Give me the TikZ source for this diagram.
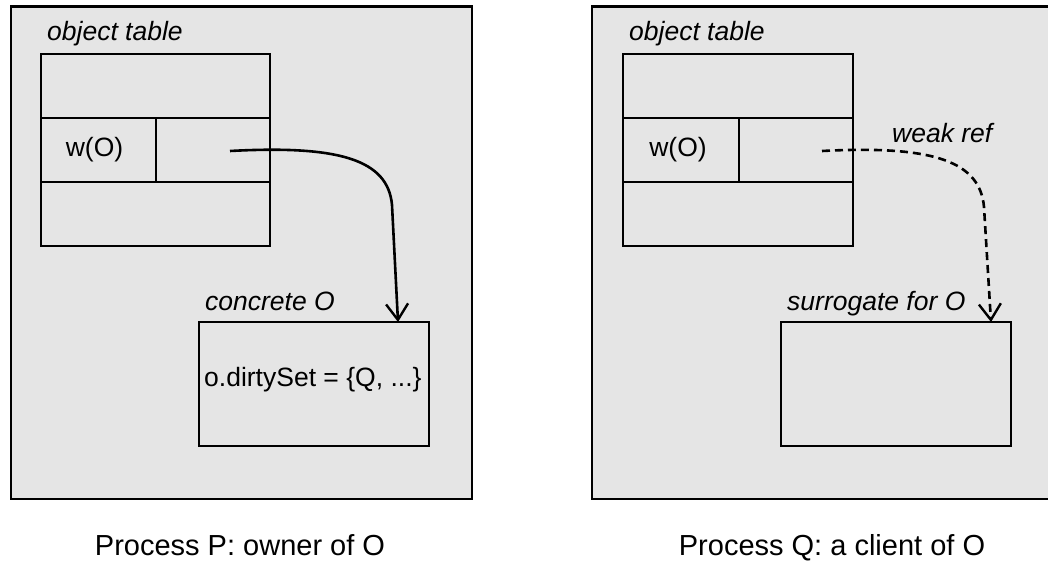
\documentclass[tikz,border=0pt]{standalone}
\usepackage{fontspec}
\setmainfont{Liberation Sans}
\usetikzlibrary{arrows.meta}
\definecolor{panelgray}{RGB}{229,229,229}
\begin{document}
\begin{tikzpicture}[x=1bp,y=-1bp,
  panel/.style={draw=black, fill=panelgray, line width=2.8bp, inner sep=0pt, outer sep=0pt, anchor=north west},
  cell/.style={draw=black, fill=panelgray, line width=2.8bp, inner sep=0pt, outer sep=0pt, anchor=north west},
  lbl/.style={font=\fontsize{26.5bp}{30bp}\selectfont\itshape, inner sep=0pt, anchor=base west},
  txt/.style={font=\fontsize{26.5bp}{30bp}\selectfont, inner sep=0pt},
  captxt/.style={font=\fontsize{29bp}{34bp}\selectfont, inner sep=0pt, anchor=base},
  ref/.style={line width=2.6bp, -{Straight Barb[length=16bp,width=22bp,line width=2.4bp]}},
  weakref/.style={ref, dash pattern=on 8bp off 5bp}
]
\clip (0,0) rectangle (1048,567);
\fill[white] (0,0) rectangle (1048,567);

% Process P
\node[panel, minimum width=461bp, minimum height=492.5bp] (P) at (11,6.5) {};
\node[lbl] (pot) at (47,41) {object table};
\node[cell, minimum width=229bp, minimum height=64bp] (prow1) at (41,54) {};
\node[cell, minimum width=115bp, minimum height=64bp] (pkey) at (41,118) {};
\node[cell, minimum width=114bp, minimum height=64bp] (pval) at (156,118) {};
\node[cell, minimum width=229bp, minimum height=64bp] (prow3) at (41,182) {};
\node[txt] (pw) at (94.5,150) {w(O)};
\node[lbl] (pco) at (205,311) {concrete O};
\node[cell, minimum width=230bp, minimum height=124bp] (pobj) at (199,322) {};
\node[txt, anchor=base west] (pds) at (204,386) {o.dirtySet = \{Q, ...\}};
\node[captxt] (pcap) at (240,555) {Process P: owner of O};

% Process Q
\node[panel, minimum width=470bp, minimum height=492.5bp] (Q) at (592,6.5) {};
\node[lbl] (qot) at (629,41) {object table};
\node[cell, minimum width=230bp, minimum height=64bp] (qrow1) at (623,54) {};
\node[cell, minimum width=116bp, minimum height=64bp] (qkey) at (623,118) {};
\node[cell, minimum width=114bp, minimum height=64bp] (qval) at (739,118) {};
\node[cell, minimum width=230bp, minimum height=64bp] (qrow3) at (623,182) {};
\node[txt] (qw) at (678,150) {w(O)};
\node[lbl] (wr) at (892,143) {weak ref};
\node[lbl] (qsu) at (787,311) {surrogate for O};
\node[cell, minimum width=230bp, minimum height=124bp] (qobj) at (781,322) {};
\node[captxt] (qcap) at (832,555) {Process Q: a client of O};

% references
\coordinate (ps) at (230,151);
\coordinate (pe) at (398,322);
\draw[ref] (ps) .. controls (340,145) and (388,160) .. (392,205) -- (pe);
\coordinate (qs) at (822,151);
\coordinate (qe) at (991,322);
\draw[weakref] (qs) .. controls (935,145) and (980,162) .. (984,207) -- (qe);
\end{tikzpicture}
\end{document}
